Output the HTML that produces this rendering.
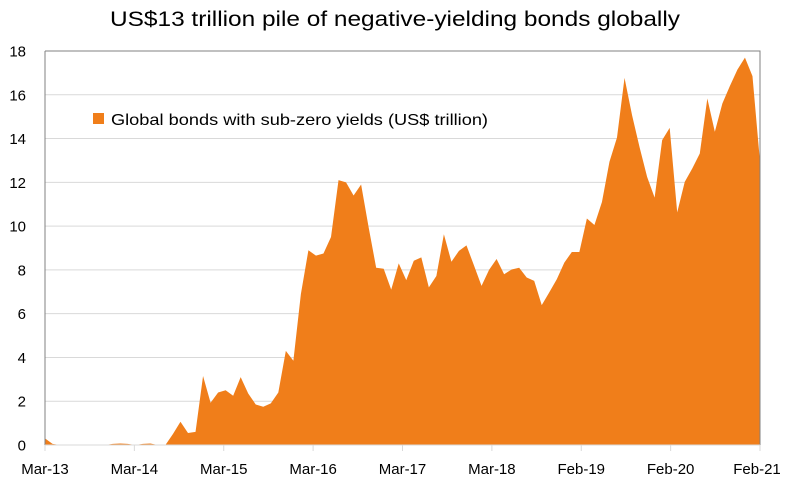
<!DOCTYPE html>
<html><head><meta charset="utf-8"><style>
body{margin:0;background:#fff;}
svg{display:block;font-family:"Liberation Sans",sans-serif;}
</style></head><body>
<svg id="chart" width="787" height="484" viewBox="0 0 787 484">
<text x="395" y="26" text-anchor="middle" font-size="21" textLength="570" lengthAdjust="spacingAndGlyphs" fill="#000">US$13 trillion pile of negative-yielding bonds globally</text>
<g id="grid"></g>
<g id="area"></g>
<g id="axes"></g>
<rect x="93" y="113" width="11" height="11" fill="#F07E1A"/>
<text x="111" y="125" font-size="16" textLength="377" lengthAdjust="spacingAndGlyphs" fill="#000">Global bonds with sub-zero yields (US$ trillion)</text>
</svg>
<script>
const values = [0.3,0.05,0,0,0,0,0,0,0,0.05,0.07,0.05,0,0.05,0.07,0,0,0.5,1.06,0.55,0.6,3.15,1.93,2.4,2.5,2.25,3.1,2.35,1.85,1.75,1.9,2.4,4.3,3.85,6.9,8.9,8.65,8.75,9.5,12.1,12.0,11.4,11.9,9.95,8.1,8.05,7.1,8.3,7.53,8.42,8.57,7.2,7.72,9.63,8.37,8.87,9.12,8.2,7.27,8.0,8.5,7.8,8.02,8.1,7.65,7.5,6.39,6.97,7.57,8.33,8.82,8.82,10.35,10.05,11.1,12.94,14.05,16.77,15.07,13.6,12.25,11.3,13.93,14.49,10.63,12.02,12.63,13.32,15.83,14.31,15.6,16.4,17.15,17.7,16.85,12.94];
const xLabels = ["Mar-13","Mar-14","Mar-15","Mar-16","Mar-17","Mar-18","Feb-19","Feb-20","Feb-21"];
const yTicks = [0,2,4,6,8,10,12,14,16,18];
const NS="http://www.w3.org/2000/svg";
const L=45,R=760,T=51,B=445,yMax=18;
const y=v=>B-(v/yMax)*(B-T);
const xData=i=>L+i*(R-L)/(values.length-1);
const xTick=k=>L+k*(R-L)/(xLabels.length-1);
const grid=document.getElementById('grid'),axes=document.getElementById('axes'),area=document.getElementById('area');
function mk(tag,attrs,parent){const e=document.createElementNS(NS,tag);for(const k in attrs)e.setAttribute(k,attrs[k]);parent.appendChild(e);return e;}
yTicks.forEach(v=>{
  if(v>0&&v<yMax){const g=mk('line',{x1:L,x2:R,y1:y(v),y2:y(v),stroke:'#d9d9d9','stroke-width':1},grid);
  
  }
  const t=mk('text',{x:26,y:y(v)+5.5,'text-anchor':'end','font-size':15,fill:'#000'},axes);
  t.textContent=v;
  
  
});
let d='M'+xData(0)+','+B;
values.forEach((v,i)=>{d+=' L'+xData(i).toFixed(2)+','+y(v).toFixed(2);});
d+=' L'+xData(values.length-1)+','+B+' Z';
const p=mk('path',{d:d,fill:'#F07E1A'},area);


const frame=mk('path',{d:`M${L},${T} H${R} V${B}`,fill:'none',stroke:'#808080','stroke-width':1},axes);


const ya=mk('line',{x1:L,x2:L,y1:T,y2:B,stroke:'#808080','stroke-width':1},axes);


const xa=mk('line',{x1:L,x2:R,y1:B,y2:B,stroke:'#d9d9d9','stroke-width':1},axes);


xLabels.forEach((s,k)=>{
  const tk=mk('line',{x1:xTick(k),x2:xTick(k),y1:B,y2:B+6,stroke:'#d9d9d9','stroke-width':1},axes);
  
  
  const t=mk('text',{x:Math.min(xTick(k),757),y:474,'text-anchor':'middle','font-size':15,fill:'#000'},axes);
  t.textContent=s;
  
  
});
</script>
</body></html>
